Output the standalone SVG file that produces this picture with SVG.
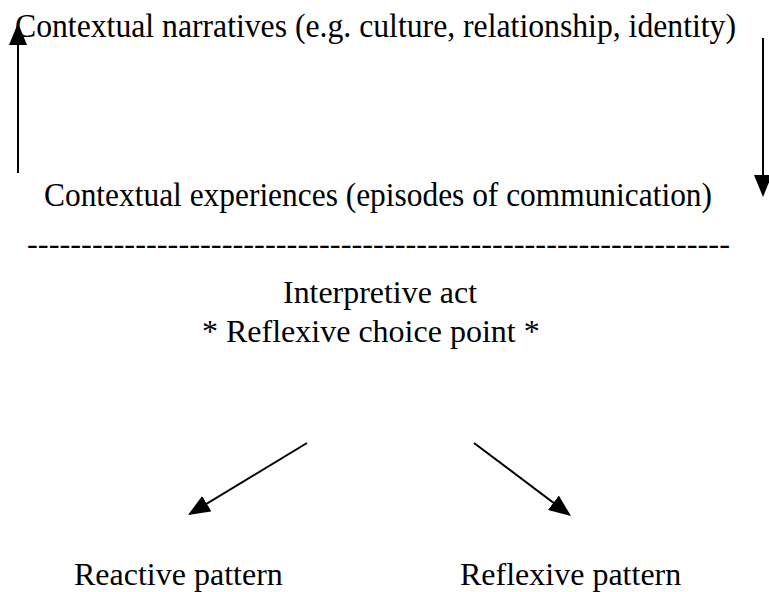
<svg xmlns="http://www.w3.org/2000/svg" width="769" height="592" viewBox="0 0 769 592">
<style>
text{font-family:"Liberation Serif","Times New Roman",serif;fill:#000;}
.t{font-size:32px;}
.c{font-size:33px;}
.l{stroke:#000;stroke-width:2;fill:none;}
</style>
<defs>
<marker id="ah" viewBox="0 0 22 18" refX="20" refY="9" markerWidth="22" markerHeight="18" markerUnits="userSpaceOnUse" orient="auto">
<path d="M0,0 L22,9 L0,18 z" fill="#000"/>
</marker>
</defs>
<rect width="769" height="592" fill="#fff"/>
<g id="narratives"><text class="c" x="15" y="37" textLength="721" lengthAdjust="spacingAndGlyphs">Contextual narratives (e.g. culture, relationship, identity)</text></g>
<g id="experiences"><text class="c" x="44" y="206" textLength="668" lengthAdjust="spacingAndGlyphs">Contextual experiences (episodes of communication)</text></g>
<g id="divider"><text class="t" x="27" y="254" textLength="703" lengthAdjust="spacingAndGlyphs">-----------------------------------------------------------------</text></g>
<g id="interpretive"><text class="t" x="283" y="303" textLength="194" lengthAdjust="spacingAndGlyphs">Interpretive act</text></g>
<g id="choice"><text class="t" x="202" y="342">* Reflexive choice point *</text></g>
<g id="reactive"><text class="t" x="74" y="585">Reactive pattern</text></g>
<g id="reflexive"><text class="t" x="460" y="585">Reflexive pattern</text></g>
<g id="connectors">
<line class="l" x1="18" y1="173" x2="18" y2="25" marker-end="url(#ah)"/>
<line class="l" x1="763" y1="38" x2="763" y2="195" marker-end="url(#ah)"/>
<line class="l" x1="307" y1="443" x2="189.7" y2="514" marker-end="url(#ah)"/>
<line class="l" x1="474" y1="443" x2="569.4" y2="514.8" marker-end="url(#ah)"/>
</g>
</svg>
